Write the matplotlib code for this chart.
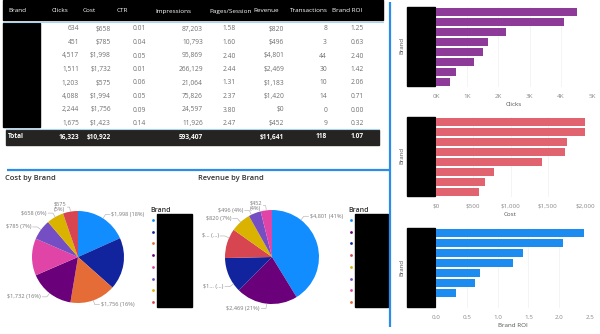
import matplotlib
matplotlib.use("Agg")
import matplotlib.pyplot as plt
import numpy as np
from matplotlib.patches import Rectangle

plt.rcParams['font.family'] = ['Open Sans', 'DejaVu Sans']

W, H = 600, 334

# table data, one row per brand (brand names are blacked out in the source)
columns = ['Brand', 'Clicks', 'Cost', 'CTR', 'Impressions', 'Pages/Session',
           'Revenue', 'Transactions', 'Brand ROI']
clicks = [634, 451, 4517, 1511, 1203, 4088, 2244, 1675]
cost = [658, 785, 1998, 1732, 575, 1994, 1756, 1423]
ctr = [0.01, 0.04, 0.05, 0.01, 0.06, 0.05, 0.09, 0.14]
impressions = [87203, 10793, 95869, 266129, 21064, 75826, 24597, 11926]
pages_session = [1.58, 1.60, 2.40, 2.44, 1.31, 2.37, 3.80, 2.47]
revenue = [820, 496, 4801, 2469, 1183, 1420, 0, 452]
transactions = [8, 3, 44, 30, 10, 14, 0, 9]
brand_roi = [1.25, 0.63, 2.40, 1.42, 2.06, 0.71, 0.00, 0.32]
totals = ['Total', '16,323', '$10,922', '', '593,407', '', '$11,641', '118', '1.07']

# power bi colours, one per brand
brand_colors = ['#D9B300', '#744EC2', '#118DFF', '#6B007B',
                '#D64550', '#12239E', '#E66C37', '#E044A7']

# data labels as shown (in descending order of value, blank = hidden)
cost_labels = ['$1,998 (18%)', '', '$1,756 (16%)', '$1,732 (16%)', '',
               '$785 (7%)', '$658 (6%)', '$575\n(5%)']
revenue_labels = ['$4,801 (41%)', '$2,469 (21%)', '$1... (...)', '$... (...)',
                  '$820 (7%)', '$496 (4%)', '$452\n(4%)', '']

BLUE = '#2B8EE6'


def px_axes(x, y, w, h):
    ax = fig.add_axes([x / W, 1 - (y + h) / H, w / W, h / H])
    ax.patch.set_alpha(0)
    return ax


fig = plt.figure(figsize=(6, 3.34), dpi=100, facecolor='white')
bg = px_axes(0, 0, W, H)
bg.set_xlim(0, W)
bg.set_ylim(H, 0)
bg.axis('off')

# ---- table ----
bg.add_patch(Rectangle((3, 0), 380, 20, color='black'))
bg.plot([3, 383], [21.5, 21.5], color='#A9D3F2', lw=0.8)
bg.add_patch(Rectangle((3, 23), 37, 104, color='black'))
bg.plot([6, 379], [129.3, 129.3], color='#A9D3F2', lw=0.8)
bg.add_patch(Rectangle((6, 130), 373, 15, color='#252423'))

head_x = [8, 52, 83, 117, 155, 209, 253, 290, 332]
right_x = [None, 79, 111, 146, 203, 236, 284, 327, 364]
for name, hx in zip(columns, head_x):
    bg.text(hx, 11, name, color='white', fontsize=4.6, va='center', ha='left')

cells = [
    [f'{v:,}' for v in clicks],
    [f'${v:,}' for v in cost],
    [f'{v:.2f}' for v in ctr],
    [f'{v:,}' for v in impressions],
    [f'{v:.2f}' for v in pages_session],
    [f'${v:,}' for v in revenue],
    [f'{v}' for v in transactions],
    [f'{v:.2f}' for v in brand_roi],
]
for c, col in enumerate(cells, start=1):
    for r, txt in enumerate(col):
        bg.text(right_x[c], 29 + r * 13.5, txt, color='#707070', fontsize=4.8,
                va='center', ha='right')

for c, txt in enumerate(totals):
    if c == 0:
        bg.text(8, 137, txt, color='white', fontsize=4.7, fontweight='bold',
                va='center', ha='left')
    elif txt:
        bg.text(right_x[c], 137, txt, color='white', fontsize=4.7,
                fontweight='bold', va='center', ha='right')

# separators
bg.plot([390, 390], [2, 327], color=BLUE, lw=1.6, solid_capstyle='butt')
bg.plot([7, 390], [169.5, 169.5], color=BLUE, lw=1.6, solid_capstyle='butt')


# ---- pies ----
def draw_pie(cx, cy, r, values, labels, title, tx, legend_x, box_w, angle_fix):
    order = sorted(range(len(values)), key=lambda i: -values[i])
    vals = [values[i] for i in order]
    cols = [brand_colors[i] for i in order]
    bg.text(tx, 178, title, fontsize=5.4, color='#333333', fontweight='semibold',
            va='center', ha='left')
    ax = px_axes(cx - r, cy - r, 2 * r, 2 * r)
    ax.pie(vals, colors=cols, startangle=90, counterclock=False, radius=1,
           wedgeprops=dict(linewidth=0))
    ax.set_xlim(-1, 1)
    ax.set_ylim(-1, 1)
    ax.axis('off')
    fr = np.cumsum([0] + vals) / sum(vals)
    for k, lab in enumerate(labels):
        if not lab:
            continue
        cw = angle_fix.get(k, 360 * (fr[k] + fr[k + 1]) / 2)
        th = np.radians(90 - cw)
        x0, y0 = np.cos(th), np.sin(th)
        x1, y1 = 1.1 * x0, 1.1 * y0
        s = 1 if x0 >= 0 else -1
        x2 = x1 + s * (0.05 if '\n' in lab else 0.1)
        ax.plot([x0, x1, x2], [y0, y1, y1], color='#AAAAAA', lw=0.4,
                clip_on=False)
        ax.text(x2 + s * 0.03, y1, lab, fontsize=4.1, color='#777777',
                ha='left' if s > 0 else 'right', va='center',
                multialignment='center', linespacing=1.1)
    # legend
    bg.text(legend_x - 3, 210, 'Brand', fontsize=5, color='#333333',
            fontweight='semibold', va='center', ha='left')
    for k, col in enumerate(cols):
        bg.scatter(legend_x, 220 + k * 11.7, s=4, color=col, linewidths=0)
    bg.add_patch(Rectangle((legend_x + 4, 214), box_w, 93, color='black'))


draw_pie(78, 257, 46, cost, cost_labels, 'Cost by Brand', 5, 153, 35, {})
draw_pie(272, 257, 47, revenue, revenue_labels, 'Revenue by Brand', 198, 351, 33,
         {0: 38, 2: 235, 3: 294, 5: 334})


# ---- bar charts ----
def draw_bars(y, w, values, xmax, ticks, ticklabels, xlabel, color):
    vals = sorted(values, reverse=True)
    ax = px_axes(436, y, w, 80)
    ax.barh(np.arange(len(vals)), vals, height=0.78, color=color, zorder=2)
    ax.set_ylim(len(vals) - 0.5, -0.5)
    ax.set_xlim(0, xmax)
    ax.set_xticks(ticks)
    ax.set_xticklabels(ticklabels)
    ax.set_yticks([])
    ax.tick_params(axis='x', length=0, labelsize=4.5, colors='#888888', pad=5)
    ax.set_xlabel(xlabel, fontsize=4.5, color='#555555', labelpad=2)
    ax.grid(axis='x', color='#F0F0F0', lw=0.5, zorder=0)
    for sp in ax.spines.values():
        sp.set_visible(False)
    bg.add_patch(Rectangle((407, y), 28, 79, color='black'))
    bg.text(402, y + 39, 'Brand', fontsize=4.3, color='#555555', rotation=90,
            va='center', ha='center')


draw_bars(7, 156, clicks, 5000, range(0, 5001, 1000),
          ['0K', '1K', '2K', '3K', '4K', '5K'], 'Clicks', '#8D3A98')
draw_bars(117, 149, cost, 2000, range(0, 2001, 500),
          ['$0', '$500', '$1,000', '$1,500', '$2,000'], 'Cost', '#E0636F')
draw_bars(228, 154, brand_roi, 2.5, np.arange(0, 2.51, 0.5),
          ['0.0', '0.5', '1.0', '1.5', '2.0', '2.5'], 'Brand ROI', '#1C8CF0')

fig.savefig('out.png', dpi=100, facecolor='white')
